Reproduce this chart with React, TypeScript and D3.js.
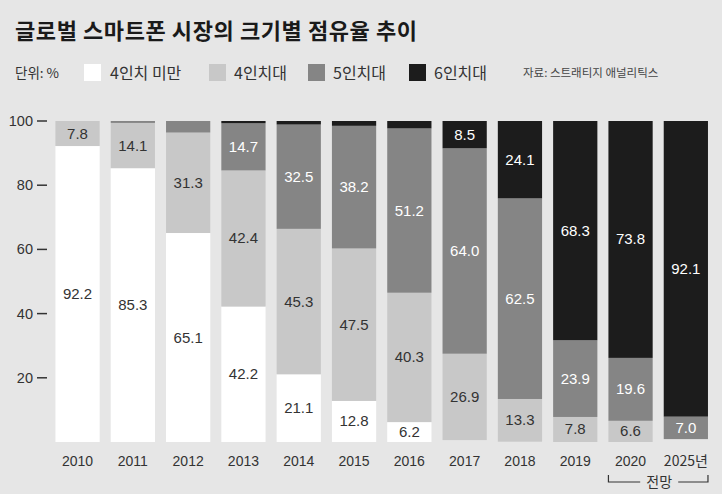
import * as d3 from "d3";

const years = ["2010", "2011", "2012", "2013", "2014", "2015", "2016", "2017", "2018", "2019", "2020", "2025년"];
const seriesNames = ["4인치 미만", "4인치대", "5인치대", "6인치대"];
// share by size, %
const under4 = [92.2, 85.3, 65.1, 42.2, 21.1, 12.8, 6.2, 0, 0, 0, 0, 0];
const inch4 = [7.8, 14.1, 31.3, 42.4, 45.3, 47.5, 40.3, 26.9, 13.3, 7.8, 6.6, 0];
const inch5 = [0, 0.6, 3.6, 14.7, 32.5, 38.2, 51.2, 64.0, 62.5, 23.9, 19.6, 7.0];
const inch6 = [0, 0, 0, 0.7, 1.1, 1.5, 2.3, 8.5, 24.1, 68.3, 73.8, 92.1];
const yTicks = [20, 40, 60, 80, 100];

const fills = ["#ffffff", "#c8c8c8", "#858585", "#1c1c1c"];
const labelColors = ["#333", "#333", "#fff", "#fff"];
const bg = "#e6e6e6";
const numFont = "'Liberation Sans Narrow', 'Liberation Sans', Arial, sans-serif";
const krFont = "'Noto Sans CJK KR', sans-serif";

const W = 722;
const H = 494;

export default function App() {
  const rows = years.map((y, i) => ({
    year: y,
    s0: under4[i],
    s1: inch4[i],
    s2: inch5[i],
    s3: inch6[i],
  }));
  const keys = ["s0", "s1", "s2", "s3"];
  const stacked = d3.stack<any>().keys(keys)(rows);
  // bars hang from 100, so rounding leftovers end up at the bottom
  const top = stacked[stacked.length - 1];
  const stack = stacked.map((layer) =>
    layer.map((d, j) => {
      const shift = 100 - top[j][1];
      return [d[0] + shift, d[1] + shift];
    })
  );

  const x = d3.scaleBand().domain(years).range([49.9, 713.5]).paddingInner(0.2).paddingOuter(0.1);
  const y = d3.scaleLinear().domain([0, 100]).range([442, 121]);

  const legend = [
    { x: 84, tx: 110 },
    { x: 209, tx: 234 },
    { x: 308, tx: 333 },
    { x: 409, tx: 434 },
  ];

  return (
    <div style={{ position: "fixed", left: 0, top: 0 }}>
      <svg width={W} height={H} style={{ display: "block" }}>
        <rect width={W} height={H} fill={bg} />
        <text x={15} y={39} fontFamily={krFont} fontWeight={700} fontSize={22} fill="#1a1a1a" textLength={402} lengthAdjust="spacing">
          글로벌 스마트폰 시장의 크기별 점유율 추이
        </text>

        {/* legend */}
        <text x={15} y={78} fontFamily={krFont} fontSize={13.5} fill="#333">단위: %</text>
        {seriesNames.map((n, i) => (
          <g key={n}>
            <rect x={legend[i].x} y={64} width={17} height={17} fill={fills[i]} />
            <text x={legend[i].tx} y={78.5} fontFamily={krFont} fontSize={16} fill="#333">{n}</text>
          </g>
        ))}
        <text x={523} y={77} fontFamily={krFont} fontSize={11.5} fill="#444">자료: 스트래티지 애널리틱스</text>

        {/* y axis */}
        {yTicks.map((t) => (
          <g key={t}>
            <text x={33} y={y(t) + 5} textAnchor="end" fontFamily={numFont} fontSize={14.5} fill="#333">{t}</text>
            <line x1={37} x2={47} y1={y(t)} y2={y(t)} stroke="#333" strokeWidth={1.5} />
          </g>
        ))}

        {/* bars */}
        {stack.map((layer, li) => (
          <g key={li} fill={fills[li]}>
            {layer.map((d, i) => {
              const h = y(d[0]) - y(d[1]);
              if (h <= 0) return null;
              return (
                <rect key={i} x={x(years[i])} y={y(d[1])} width={x.bandwidth()} height={h} />
              );
            })}
          </g>
        ))}

        {/* value labels */}
        {stack.map((layer, li) =>
          layer.map((d, i) => {
            const v = d[1] - d[0];
            if (v < 5) return null;
            return (
              <text
                key={`${li}-${i}`}
                x={(x(years[i]) as number) + x.bandwidth() / 2}
                y={y((d[0] + d[1]) / 2) + 5}
                textAnchor="middle"
                fontFamily={numFont}
                fontSize={15}
                fill={labelColors[li]}
              >
                {v.toFixed(1)}
              </text>
            );
          })
        )}

        {/* x labels */}
        {years.map((yr) => (
          <text
            key={yr}
            x={(x(yr) as number) + x.bandwidth() / 2}
            y={466}
            textAnchor="middle"
            fontFamily={yr.includes("년") ? krFont : numFont}
            fontSize={14}
            fill="#333"
          >
            {yr}
          </text>
        ))}

        {/* forecast bracket */}
        {(() => {
          const x0 = x("2020") as number;
          const x1 = (x("2025년") as number) + x.bandwidth();
          const mid = (x0 + x1) / 2 + 1;
          const yy = 482;
          return (
            <g stroke="#333" strokeWidth={1.2} fill="none">
              <path d={`M${x0},${yy - 7}V${yy}H${mid - 19}`} />
              <path d={`M${x1},${yy - 7}V${yy}H${mid + 19}`} />
              <text x={mid} y={yy + 5} textAnchor="middle" fontFamily={krFont} fontSize={14} fill="#333" stroke="none">전망</text>
            </g>
          );
        })()}
      </svg>
    </div>
  );
}
